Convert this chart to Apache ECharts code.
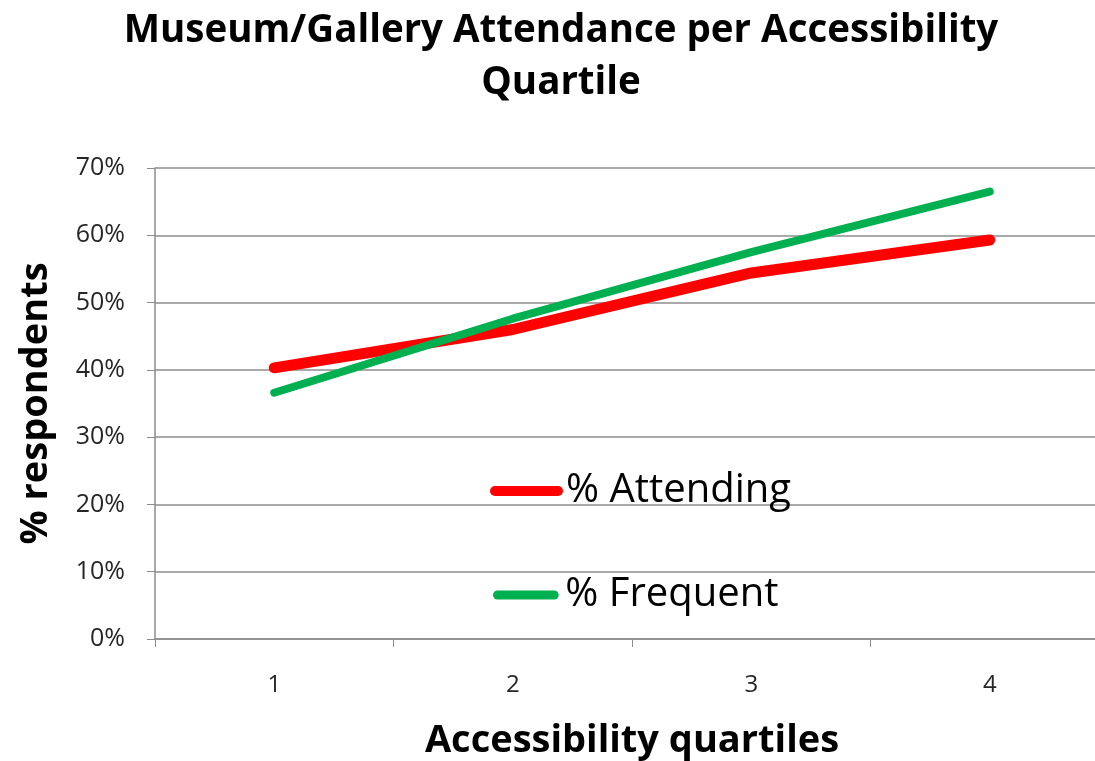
<!DOCTYPE html>
<html>
<head>
<meta charset="utf-8">
<script src="https://cdn.jsdelivr.net/npm/echarts@6/dist/echarts.min.js"></script>
<style>
  html, body { margin: 0; padding: 0; background: #fff; }
  #chart { width: 1095px; height: 761px; }
</style>
</head>
<body>
<div id="chart"></div>
<script>
// Accessibility quartiles and share of respondents (%)
const quartiles = ['1', '2', '3', '4'];
const attending = [40.3, 46.0, 54.4, 59.3];
const frequent = [36.6, 47.6, 57.5, 66.5];
const seriesNames = ['% Attending', '% Frequent'];

const RED = '#FF0000';
const GREEN = '#00B050';
const GRID_GREY = '#8C8C8C';
// rounded bar used as legend key
const pillIcon = 'path://M5,0H68A5,5,0,0,1,68,10H5A5,5,0,0,1,5,0Z';

const chart = echarts.init(document.getElementById('chart'), null, { renderer: 'canvas' });

chart.setOption({
  backgroundColor: '#ffffff',
  animation: false,
  title: {
    text: 'Museum/Gallery Attendance per Accessibility\nQuartile',
    left: 561,
    top: 5,
    padding: 0,
    textAlign: 'center',
    textStyle: {
      fontFamily: 'Open Sans',
      fontWeight: 'bold',
      fontSize: 38.5,
      lineHeight: 52,
      color: '#000'
    }
  },
  legend: [
    {
      data: [{ name: seriesNames[0], icon: pillIcon, itemStyle: { color: RED, borderWidth: 0 } }],
      left: 490,
      top: 471,
      padding: 0,
      itemWidth: 73,
      itemHeight: 11,
      selectedMode: false,
      textStyle: { fontFamily: 'Open Sans', fontSize: 40, color: '#000', padding: [0, 0, 0, -2] }
    },
    {
      data: [{ name: seriesNames[1], icon: pillIcon, itemStyle: { color: GREEN, borderWidth: 0 } }],
      left: 493,
      top: 575,
      padding: 0,
      itemWidth: 69,
      itemHeight: 9,
      selectedMode: false,
      textStyle: { fontFamily: 'Open Sans', fontSize: 40, color: '#000', padding: [0, 0, 0, 0] }
    }
  ],
  grid: {
    left: 155,
    top: 168,
    width: 954,
    height: 471,
    containLabel: false,
    outerBoundsMode: 'none'
  },
  xAxis: {
    type: 'category',
    data: quartiles,
    boundaryGap: true,
    name: 'Accessibility quartiles',
    nameLocation: 'middle',
    nameGap: 83,
    nameTextStyle: { fontFamily: 'Open Sans', fontWeight: 'bold', fontSize: 38, color: '#000' },
    axisLine: { lineStyle: { color: GRID_GREY, width: 1.5 } },
    axisTick: { show: true, length: 8, alignWithLabel: false, lineStyle: { color: GRID_GREY, width: 1 } },
    axisLabel: { margin: 34, fontFamily: 'Open Sans', fontSize: 24, color: '#262626' },
    splitLine: { show: false }
  },
  yAxis: {
    type: 'value',
    min: 0,
    max: 70,
    interval: 10,
    name: '% respondents',
    nameLocation: 'middle',
    nameGap: 100,
    nameTextStyle: { fontFamily: 'Open Sans', fontWeight: 'bold', fontSize: 38, color: '#000' },
    axisLine: { show: true, lineStyle: { color: GRID_GREY, width: 1.5 } },
    axisTick: { show: true, length: 8, lineStyle: { color: GRID_GREY, width: 1 } },
    axisLabel: { margin: 30, fontFamily: 'Open Sans', fontSize: 25, color: '#262626', formatter: '{value}%' },
    splitLine: { show: true, lineStyle: { color: GRID_GREY, width: 1.5 } }
  },
  series: [
    {
      name: seriesNames[0],
      type: 'line',
      data: attending,
      symbol: 'none',
      color: RED,
      lineStyle: { color: RED, width: 11, cap: 'round', join: 'round' },
      z: 2
    },
    {
      name: seriesNames[1],
      type: 'line',
      data: frequent,
      symbol: 'none',
      color: GREEN,
      lineStyle: { color: GREEN, width: 8, cap: 'round', join: 'round' },
      z: 3
    }
  ]
});
</script>
</body>
</html>
